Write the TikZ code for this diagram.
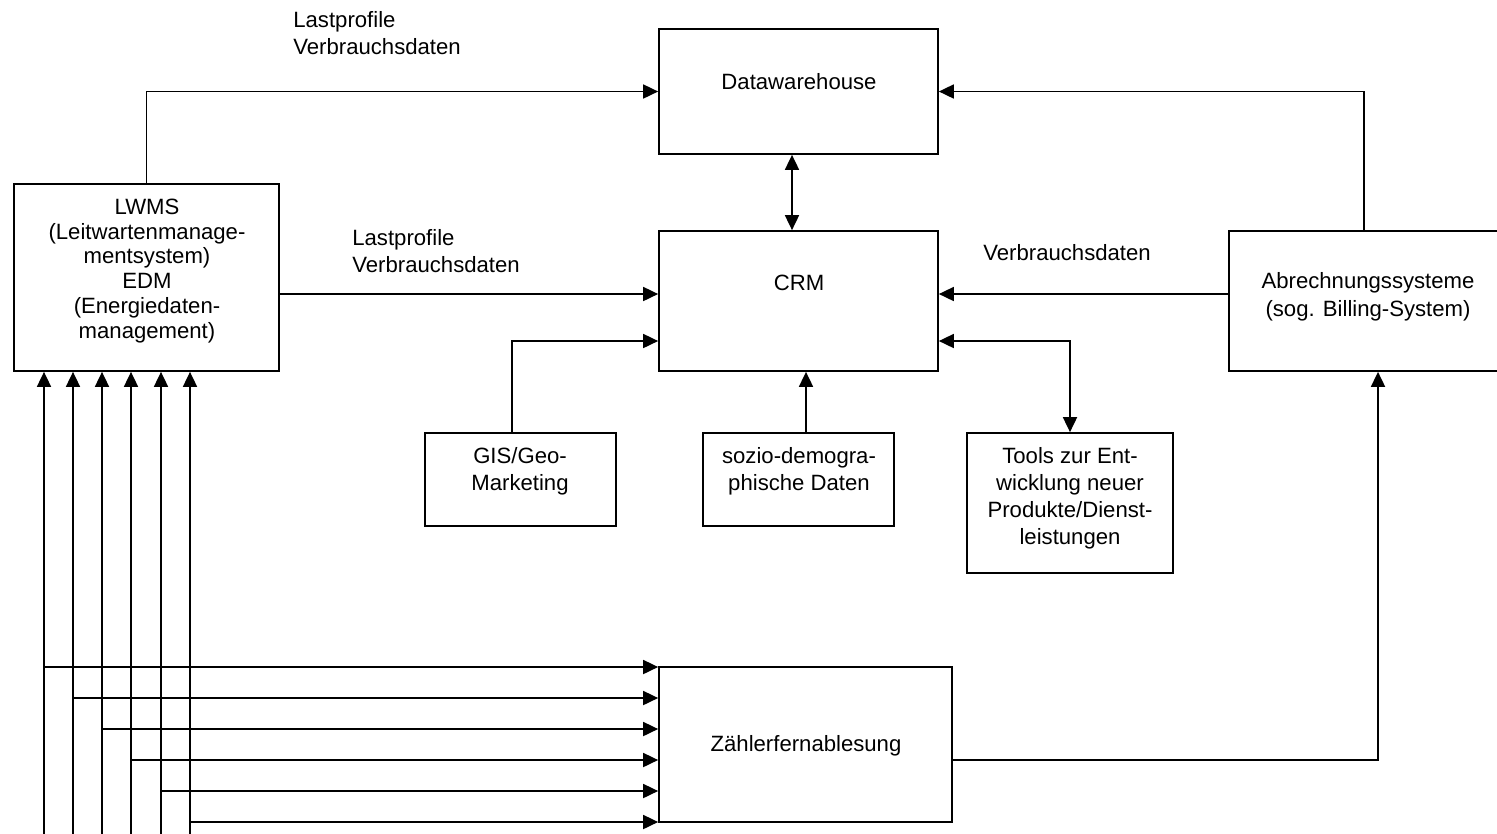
\documentclass[tikz,border=0pt]{standalone}
\usepackage{fontspec}
\setmainfont{Liberation Sans}
\usetikzlibrary{arrows.meta}
\begin{document}
\begin{tikzpicture}[x=0.02cm,y=-0.02cm,
  box/.style={draw, line width=1pt, inner sep=0pt},
  txt/.style={align=center, font=\fontsize{12.6}{15.3}\selectfont, inner sep=0pt},
  lbl/.style={align=left, anchor=north west, font=\fontsize{12.6}{15.3}\selectfont, inner sep=0pt},
  tip/.tip={Triangle[length=0.3cm,width=0.28cm]},
  arr/.style={line width=1pt, -tip},
  darr/.style={line width=1pt, tip-tip}]
\useasboundingbox (0,0) rectangle (1497,833);
% boxes
\node[box, minimum width=5.58cm, minimum height=2.5cm] (dw) at (798.5,91.5) {};
\node[box, minimum width=5.58cm, minimum height=2.8cm] (crm) at (798.5,301) {};
\node[box, minimum width=5.3cm, minimum height=3.74cm] (lwms) at (146.5,277.5) {};
\node[box, minimum width=5.4cm, minimum height=2.8cm] (abr) at (1364,301) {};
\node[box, minimum width=3.82cm, minimum height=1.86cm] (gis) at (520.5,479.5) {};
\node[box, minimum width=3.82cm, minimum height=1.86cm] (soz) at (798.5,479.5) {};
\node[box, minimum width=4.12cm, minimum height=2.8cm] (tools) at (1070,503) {};
\node[box, minimum width=5.86cm, minimum height=3.1cm] (zf) at (805.5,744.5) {};
% texts
\node[txt] (dwt) at (799,81.5) {Datawarehouse};
\node[txt] (crmt) at (799,282.5) {CRM};
\node[txt, font=\fontsize{12.6}{14.2}\selectfont] (lwmst) at (147,271) {LWMS\\(Leitwartenmanage-\\mentsystem)\\EDM\\(Energiedaten-\\management)};
\node[txt, font=\fontsize{12.6}{15.9}\selectfont] (abrt) at (1368,297) {Abrechnungssysteme\\(sog. Billing-System)};
\node[txt] (gist) at (520,471.5) {GIS/Geo-\\Marketing};
\node[txt] (sozt) at (799,471.5) {sozio-demogra-\\phische Daten};
\node[txt] (toolst) at (1070,498.5) {Tools zur Ent-\\wicklung neuer\\Produkte/Dienst-\\leistungen};
\node[txt] (zft) at (806,746) {Zählerfernablesung};
% labels
\node[lbl] (l1) at (293,11) {Lastprofile\\Verbrauchsdaten};
\node[lbl] (l2) at (352,229) {Lastprofile\\Verbrauchsdaten};
\node[lbl] (l3) at (983,244) {Verbrauchsdaten};
% helper coordinates
\coordinate (y294) at (0,294);
\coordinate (y341) at (0,341);
\coordinate (y760) at (0,760);
\coordinate (x792) at (792,0);
\coordinate (x512) at (512,0);
\coordinate (x806) at (806,0);
\coordinate (x1378) at (1378,0);
% connectors
\draw[arr] (lwms.north) |- (dw.west);
\draw[arr] (abr.north) |- (dw.east);
\draw[darr] (dw.south -| x792) -- (crm.north -| x792);
\draw[arr] (lwms.east |- y294) -- (crm.west |- y294);
\draw[arr] (abr.west |- y294) -- (crm.east |- y294);
\draw[arr] (gis.north -| x512) |- (crm.west |- y341);
\draw[arr] (soz.north -| x806) -- (crm.south -| x806);
\draw[darr] (crm.east |- y341) -| (tools.north);
\draw[arr] (zf.east |- y760) -| (abr.south -| x1378);
\foreach \x/\y [count=\i] in {44/667,73/698,102/729,131/760,161/791,190/822}{
  \coordinate (b\i) at (\x,845);
  \coordinate (h\i) at (\x,\y);
  \draw[arr] (b\i) -- (b\i |- lwms.south);
  \draw[arr] (h\i) -- (zf.west |- h\i);
}
\end{tikzpicture}
\end{document}
